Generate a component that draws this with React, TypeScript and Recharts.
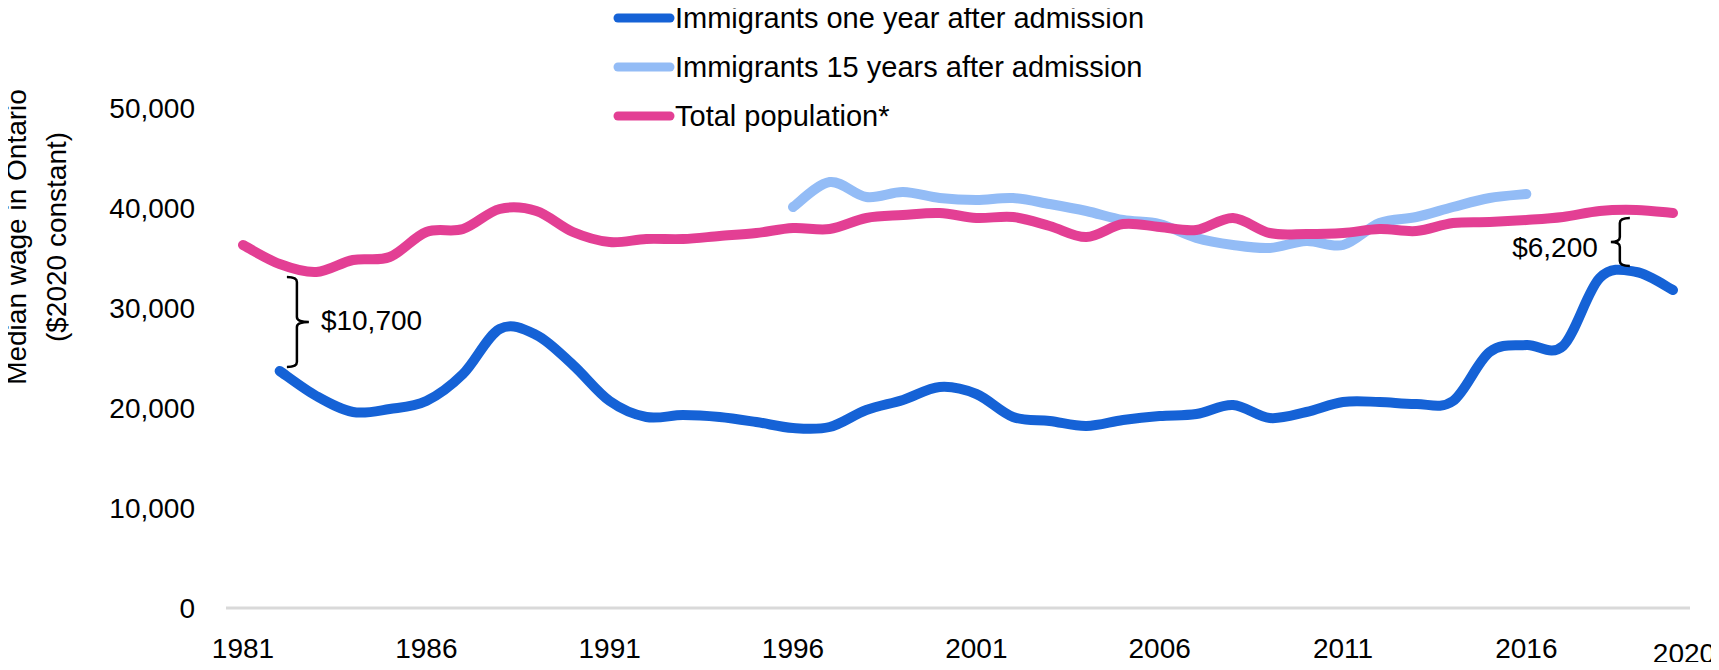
import { Legend, Line, LineChart, ReferenceLine, XAxis, YAxis } from "recharts";

const years = [
    1981, 1982, 1983, 1984, 1985, 1986, 1987, 1988, 1989, 1990,
    1991, 1992, 1993, 1994, 1995, 1996, 1997, 1998, 1999, 2000,
    2001, 2002, 2003, 2004, 2005, 2006, 2007, 2008, 2009, 2010,
    2011, 2012, 2013, 2014, 2015, 2016, 2017, 2018, 2019, 2020,
];

const oneYearAfter = [
    null, 23700, 21200, 19600, 19900, 20700, 23400, 27900, 27300, 24300,
    20700, 19100, 19300, 19100, 18600, 18000, 18100, 19800, 20800, 22100,
    21400, 19100, 18700, 18200, 18800, 19200, 19400, 20300, 19000, 19600,
    20600, 20600, 20400, 20700, 25600, 26300, 26200, 33000, 33600, 31800,
];

const fifteenYearsAfter = [
    null, null, null, null, null, null, null, null, null, null,
    null, null, null, null, null, 40100, 42600, 41100, 41600, 41000,
    40800, 41000, 40400, 39700, 38800, 38400, 37000, 36300, 36000, 36700,
    36300, 38500, 39100, 40100, 41000, 41400, null, null, null, null,
];

const totalPopulation = [
    36300, 34400, 33600, 34800, 35100, 37600, 37900, 39900, 39700, 37600,
    36600, 36900, 36900, 37200, 37500, 38000, 37900, 39000, 39300, 39500,
    39000, 39100, 38200, 37100, 38400, 38100, 37800, 39000, 37500, 37400,
    37500, 37900, 37700, 38500, 38600, 38800, 39100, 39700, 39800, 39500,
];

const yearTicks = [1981, 1986, 1991, 1996, 2001, 2006, 2011, 2016, 2020];
const wageTicks = [0, 10000, 20000, 30000, 40000, 50000];

const seriesKeys = ["oneYear", "fifteenYears", "total"];
const seriesNames = [
    "Immigrants one year after admission",
    "Immigrants 15 years after admission",
    "Total population*",
];
const seriesColors = ["#1562D6", "#93BCF6", "#E33F94"];

// gap brackets: year the gap is measured at
const gapYears = [1982, 2019];

const data = years.map((year, i) => ({
    year,
    oneYear: oneYearAfter[i],
    fifteenYears: fifteenYearsAfter[i],
    total: totalPopulation[i],
}));

const FONT = "'Liberation Sans', Arial, Helvetica, sans-serif";

const valueAt = (arr: (number | null)[], year: number) => arr[years.indexOf(year)] as number;

// Catmull-Rom style smoothing (like spreadsheet "smoothed line"), passes through every point
const smoothCurve = (context: any) => {
    let pts: number[][] = [];
    return {
        areaStart() {},
        areaEnd() {},
        lineStart() {
            pts = [];
        },
        point(x: number, y: number) {
            pts.push([+x, +y]);
        },
        lineEnd() {
            if (!pts.length) return;
            context.moveTo(pts[0][0], pts[0][1]);
            if (pts.length === 1) {
                context.lineTo(pts[0][0], pts[0][1]);
                return;
            }
            for (let i = 0; i < pts.length - 1; i++) {
                const p0 = pts[i - 1] || pts[i];
                const p1 = pts[i];
                const p2 = pts[i + 1];
                const p3 = pts[i + 2] || p2;
                context.bezierCurveTo(
                    p1[0] + (p2[0] - p0[0]) / 6,
                    p1[1] + (p2[1] - p0[1]) / 6,
                    p2[0] - (p3[0] - p1[0]) / 6,
                    p2[1] - (p3[1] - p1[1]) / 6,
                    p2[0],
                    p2[1]
                );
            }
        },
    };
};

// curly brace between two points; dir -1 = hooks point left "}", 1 = hooks point right "{"
function makeBrace(dir: number, text: string, insetTop: number, insetBottom: number, textDy: number) {
    return (props: any) => {
        const x = props.x1;
        const top = Math.min(props.y1, props.y2) + insetTop;
        const bottom = Math.max(props.y1, props.y2) - insetBottom;
        const mid = (top + bottom) / 2;
        const hook = 10;
        const tick = dir < 0 ? 12 : 9;
        const d = [
            `M${x + dir * hook},${top}`,
            `Q${x},${top} ${x},${top + 5}`,
            `L${x},${mid - 5}`,
            `Q${x},${mid} ${x - dir * tick},${mid}`,
            `Q${x},${mid} ${x},${mid + 5}`,
            `L${x},${bottom - 5}`,
            `Q${x},${bottom} ${x + dir * hook},${bottom}`,
        ].join(" ");
        return (
            <g>
                <path d={d} fill="none" stroke="#000" strokeWidth={2.5} />
                <text
                    x={dir < 0 ? x + 24 : x - 22}
                    y={mid + textDy}
                    textAnchor={dir < 0 ? "start" : "end"}
                    dominantBaseline="central"
                    fontSize={28}
                    fontFamily={FONT}
                    fill="#000"
                >
                    {text}
                </text>
            </g>
        );
    };
}

const gapLabel = (year: number) =>
    "$" + (valueAt(totalPopulation, year) - valueAt(oneYearAfter, year)).toLocaleString("en-US");

const YearTick = (props: any) => {
    const { x, y, payload } = props;
    const last = payload.value === 2020;
    return (
        <text
            x={x + (last ? 11 : 0)}
            y={y + (last ? 5 : 0)}
            dy="0.71em"
            textAnchor="middle"
            fontSize={28}
            fontFamily={FONT}
            fill="#000"
        >
            {payload.value}
        </text>
    );
};

const AxisTitle = () => (
    <text x={26} y={237} transform="rotate(-90, 26, 237)" textAnchor="middle" fontSize={28} fontFamily={FONT} fill="#000">
        <tspan x={26} dy={0}>Median wage in Ontario</tspan>
        <tspan x={26} dy={40}>($2020 constant)</tspan>
    </text>
);

const LegendRows = (props: any) => {
    const payload = props.payload || [];
    const rows = seriesKeys
        .map((key) => payload.find((p: any) => p.dataKey === key))
        .filter(Boolean);
    return (
        <div>
            {rows.map((entry: any) => (
                <div key={entry.dataKey} style={{ display: "flex", alignItems: "center", height: 49 }}>
                    <svg width={62} height={12}>
                        <line x1={5} y1={6} x2={57} y2={6} stroke={entry.color} strokeWidth={9} strokeLinecap="round" />
                    </svg>
                    <span
                        style={{
                            position: "relative",
                            top: 1,
                            fontSize: 29,
                            lineHeight: "49px",
                            color: "#000",
                            whiteSpace: "nowrap",
                            fontFamily: FONT,
                        }}
                    >
                        {entry.value}
                    </span>
                </div>
            ))}
        </div>
    );
};

const App = () => {
    return (
        <div style={{ margin: -8, width: 1719, height: 670, overflow: "hidden", fontFamily: FONT }}>
            <LineChart width={1719} height={670} data={data} margin={{ top: 108, right: 29, bottom: 0, left: 0 }}>
                <XAxis
                    dataKey="year"
                    type="number"
                    domain={[1981, 2020]}
                    ticks={yearTicks}
                    padding={{ left: 17, right: 17 }}
                    axisLine={{ stroke: "#D9D9D9", strokeWidth: 3 }}
                    tickLine={false}
                    tickSize={0}
                    tickMargin={30}
                    height={62}
                    tick={<YearTick />}
                    interval={0}
                />
                <YAxis
                    type="number"
                    domain={[0, 50000]}
                    ticks={wageTicks}
                    width={226}
                    axisLine={false}
                    tickLine={false}
                    tickSize={0}
                    tickMargin={31}
                    tick={{ fill: "#000", fontSize: 28, fontFamily: FONT }}
                    tickFormatter={(v: number) => v.toLocaleString("en-US")}
                    interval={0}
                    label={{ content: AxisTitle }}
                />
                <Legend
                    layout="vertical"
                    align="center"
                    verticalAlign="middle"
                    content={<LegendRows />}
                    wrapperStyle={{ top: -7, left: 613, width: "auto", height: "auto" }}
                />
                {seriesKeys.map((key, i) => (
                    <Line
                        key={key}
                        type={smoothCurve as any}
                        dataKey={key}
                        name={seriesNames[i]}
                        stroke={seriesColors[i]}
                        strokeWidth={10}
                        strokeLinecap="round"
                        strokeLinejoin="round"
                        dot={false}
                        activeDot={false}
                        isAnimationActive={false}
                    />
                ))}
                <ReferenceLine
                    segment={[
                        { x: gapYears[0] + 0.47, y: valueAt(oneYearAfter, gapYears[0]) },
                        { x: gapYears[0] + 0.47, y: valueAt(totalPopulation, gapYears[0]) },
                    ]}
                    shape={makeBrace(-1, gapLabel(gapYears[0]), 13, 4, -2)}
                />
                <ReferenceLine
                    segment={[
                        { x: gapYears[1] - 0.45, y: valueAt(oneYearAfter, gapYears[1]) },
                        { x: gapYears[1] - 0.45, y: valueAt(totalPopulation, gapYears[1]) },
                    ]}
                    shape={makeBrace(1, gapLabel(gapYears[1]), 8, 6, 5)}
                />
            </LineChart>
        </div>
    );
};

export default App;
